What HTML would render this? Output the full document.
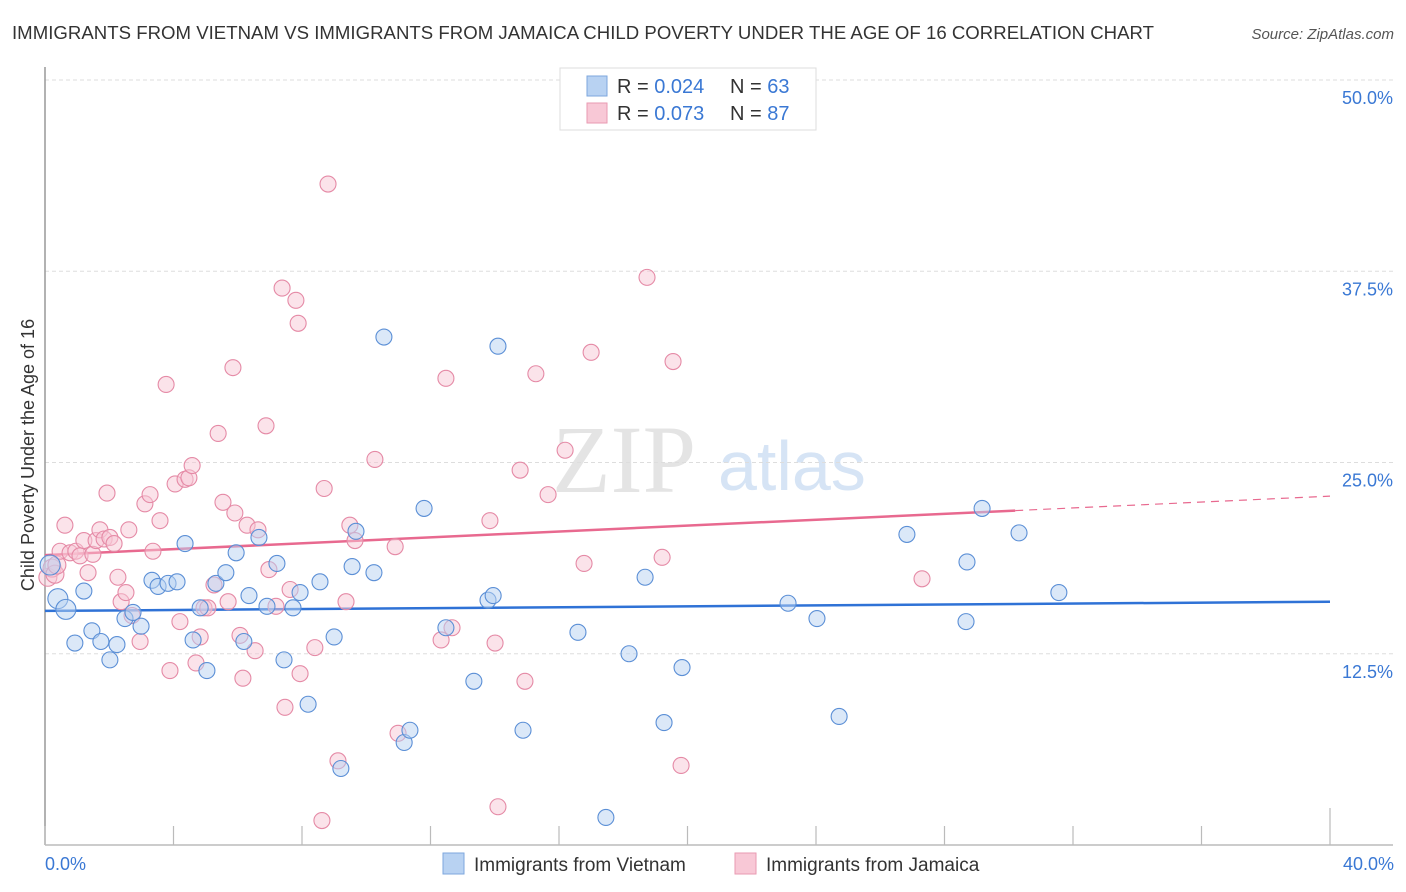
<!DOCTYPE html>
<html><head><meta charset="utf-8"><style>
body{margin:0;background:#fff;font-family:"Liberation Sans",sans-serif;}
svg{display:block}
</style></head><body>
<svg id="chart" width="1406" height="892" viewBox="0 0 1406 892">
<text x="12" y="39" font-size="18.6" fill="#333" textLength="1142">IMMIGRANTS FROM VIETNAM VS IMMIGRANTS FROM JAMAICA CHILD POVERTY UNDER THE AGE OF 16 CORRELATION CHART</text>
<text x="1394" y="39" font-size="15" fill="#555" font-style="italic" text-anchor="end">Source: ZipAtlas.com</text>
<g>
<text x="552" y="492" font-family="Liberation Serif,serif" font-size="96" fill="#e4e4e4">ZIP</text>
<text x="718" y="490" font-size="70" fill="#d6e4f5">atlas</text>
</g>
<g id="grid"></g>
<g id="axes"></g>
<g id="trend"></g>
<g id="pts"></g>
<text transform="translate(34,455) rotate(-90)" font-size="18" fill="#333" text-anchor="middle">Child Poverty Under the Age of 16</text>
<text x="45" y="870" font-size="18" fill="#3a78d4">0.0%</text>
<text x="1394" y="870" font-size="18" fill="#3a78d4" text-anchor="end">40.0%</text>
<g>
<rect x="560" y="68" width="256" height="62" fill="#fff" stroke="#ddd"/>
<rect x="587" y="76" width="20" height="20" fill="#b8d2f2" stroke="#7ea7de"/>
<rect x="587" y="103" width="20" height="20" fill="#f8c8d6" stroke="#e99ab2"/>
<text x="617" y="93" font-size="20" fill="#333">R = <tspan fill="#3a78d4">0.024</tspan><tspan x="730">N = </tspan><tspan fill="#3a78d4">63</tspan></text>
<text x="617" y="120" font-size="20" fill="#333">R = <tspan fill="#3a78d4">0.073</tspan><tspan x="730">N = </tspan><tspan fill="#3a78d4">87</tspan></text>
</g>
<g>
<rect x="443" y="853" width="21" height="21" fill="#b8d2f2" stroke="#7ea7de"/>
<text x="474" y="871" font-size="19" fill="#333">Immigrants from Vietnam</text>
<rect x="735" y="853" width="21" height="21" fill="#f8c8d6" stroke="#e99ab2"/>
<text x="766" y="871" font-size="19" fill="#333">Immigrants from Jamaica</text>
</g>
</svg>
<script>
const yTicks=[12.5,25,37.5,50];
const yTickLabels=["12.5%","25.0%","37.5%","50.0%"];
const xTicks=[0,4,8,12,16,20,24,28,32,36,40];
const vietX=[0.16,0.40,0.65,0.93,1.21,1.46,1.74,2.02,2.24,2.49,2.74,2.99,3.33,3.52,3.83,4.11,4.36,4.61,4.83,5.04,5.32,5.63,5.95,6.19,6.35,6.66,6.91,7.22,7.44,7.72,7.94,8.19,8.56,9.00,9.21,9.56,9.68,10.24,10.55,11.18,11.36,11.80,12.48,13.35,13.79,13.95,14.10,14.88,16.59,17.46,18.18,18.68,19.27,19.83,23.13,24.03,24.72,26.83,28.67,28.70,29.17,30.32,31.56];
const vietY=[18.3,16.1,15.4,13.2,16.6,14.0,13.3,12.1,13.1,14.8,15.2,14.3,17.3,16.9,17.1,17.2,19.7,13.4,15.5,11.4,17.1,17.8,19.1,13.3,16.3,20.1,15.6,18.4,12.1,15.5,16.5,9.2,17.2,13.6,5.0,18.2,20.5,17.8,33.2,6.7,7.5,22.0,14.2,10.7,16.0,16.3,32.6,7.5,13.9,1.8,12.5,17.5,8.0,11.6,15.8,14.8,8.4,20.3,14.6,18.5,22.0,20.4,16.5];
const jamX=[0.09,0.22,0.31,0.37,0.47,0.62,0.78,0.96,1.09,1.21,1.34,1.49,1.59,1.71,1.84,1.93,2.02,2.15,2.27,2.37,2.52,2.61,2.71,2.96,3.11,3.27,3.36,3.58,3.77,3.89,4.05,4.20,4.36,4.48,4.58,4.70,4.83,4.95,5.07,5.26,5.39,5.54,5.70,5.85,5.91,6.07,6.16,6.29,6.54,6.63,6.88,6.97,7.19,7.38,7.47,7.63,7.81,7.88,7.94,8.40,8.62,8.69,8.81,9.12,9.37,9.49,9.65,10.27,10.90,10.99,12.33,12.48,12.67,13.85,14.01,14.10,14.79,14.94,15.28,15.66,16.19,16.78,17.00,18.74,19.21,19.55,19.80,27.30];
const jamY=[17.5,18.1,17.7,18.3,19.2,20.9,19.1,19.2,18.9,19.9,17.8,19.0,19.9,20.6,20.0,23.0,20.1,19.7,17.5,15.9,16.5,20.6,15.0,13.3,22.3,22.9,19.2,21.2,30.1,11.4,23.6,14.6,23.9,24.0,24.8,11.9,13.6,15.5,15.5,17.0,26.9,22.4,15.9,31.2,21.7,13.7,10.9,20.9,12.7,20.6,27.4,18.0,15.6,36.4,9.0,16.7,35.6,34.1,11.2,12.9,1.6,23.3,43.2,5.5,15.9,20.9,19.9,25.2,19.5,7.3,13.4,30.5,14.2,21.2,13.2,2.5,24.5,10.7,30.8,22.9,25.8,18.4,32.2,37.1,18.8,31.6,5.2,17.4];
const vietTrend=[15.3,15.9];
const jamTrend=[18.95,22.8];
const jamSolidEnd=30.2;

const NS="http://www.w3.org/2000/svg";
const X0=45,X1=1330,Y0=845,Y50=80;
const sx=v=>X0+(X1-X0)*v/40;
const sy=v=>Y0-(Y0-Y50)*v/50;
function mk(tag,attrs,parent){const e=document.createElementNS(NS,tag);for(const k in attrs)e.setAttribute(k,attrs[k]);parent.appendChild(e);return e;}
const grid=document.getElementById('grid'),axes=document.getElementById('axes'),trend=document.getElementById('trend'),pts=document.getElementById('pts');
yTicks.forEach((t,i)=>{
 const l=mk('line',{x1:X0,x2:1393,y1:sy(t),y2:sy(t),stroke:'#ddd','stroke-dasharray':'4,3'},grid);
 
 
 const tx=mk('text',{x:1393,y:sy(t)+24,'font-size':18,fill:'#3a78d4','text-anchor':'end'},grid);
 tx.textContent=yTickLabels[i];
 
 
});
const ya=mk('line',{x1:X0,x2:X0,y1:67,y2:Y0,stroke:'#999','stroke-width':1.5},axes);


const xa=mk('line',{x1:X0,x2:1393,y1:Y0,y2:Y0,stroke:'#bbb','stroke-width':1.5},axes);


xTicks.forEach(t=>{
 const tk=mk('line',{x1:sx(t),x2:sx(t),y1:(t===40?808:826),y2:Y0,stroke:'#bbb','stroke-width':1.2},axes);
 
 
});
function dot(x,y,fill,stroke,name,r){
 const c=mk('circle',{cx:sx(x),cy:sy(y),r:r,fill:fill,'fill-opacity':0.5,stroke:stroke,'stroke-width':1.1},pts);
 
 
}
jamX.forEach((x,i)=>dot(x,jamY[i],'#f8c8d6','#e58aa6','jamaica-point',i<4?9:8));
vietX.forEach((x,i)=>dot(x,vietY[i],'#b8d2f2','#5b8fd6','vietnam-point',i<3?10:8));
const bt=mk('line',{x1:sx(0),x2:sx(40),y1:sy(vietTrend[0]),y2:sy(vietTrend[1]),stroke:'#2f72d6','stroke-width':2.5},trend);


const jmid=jamTrend[0]+(jamTrend[1]-jamTrend[0])*jamSolidEnd/40;
const pt=mk('line',{x1:sx(0),x2:sx(jamSolidEnd),y1:sy(jamTrend[0]),y2:sy(jmid),stroke:'#e8698f','stroke-width':2.5},trend);


const pd=mk('line',{x1:sx(jamSolidEnd),x2:sx(40),y1:sy(jmid),y2:sy(jamTrend[1]),stroke:'#e8698f','stroke-width':1.2,'stroke-dasharray':'8,6'},trend);


</script>
</body></html>
